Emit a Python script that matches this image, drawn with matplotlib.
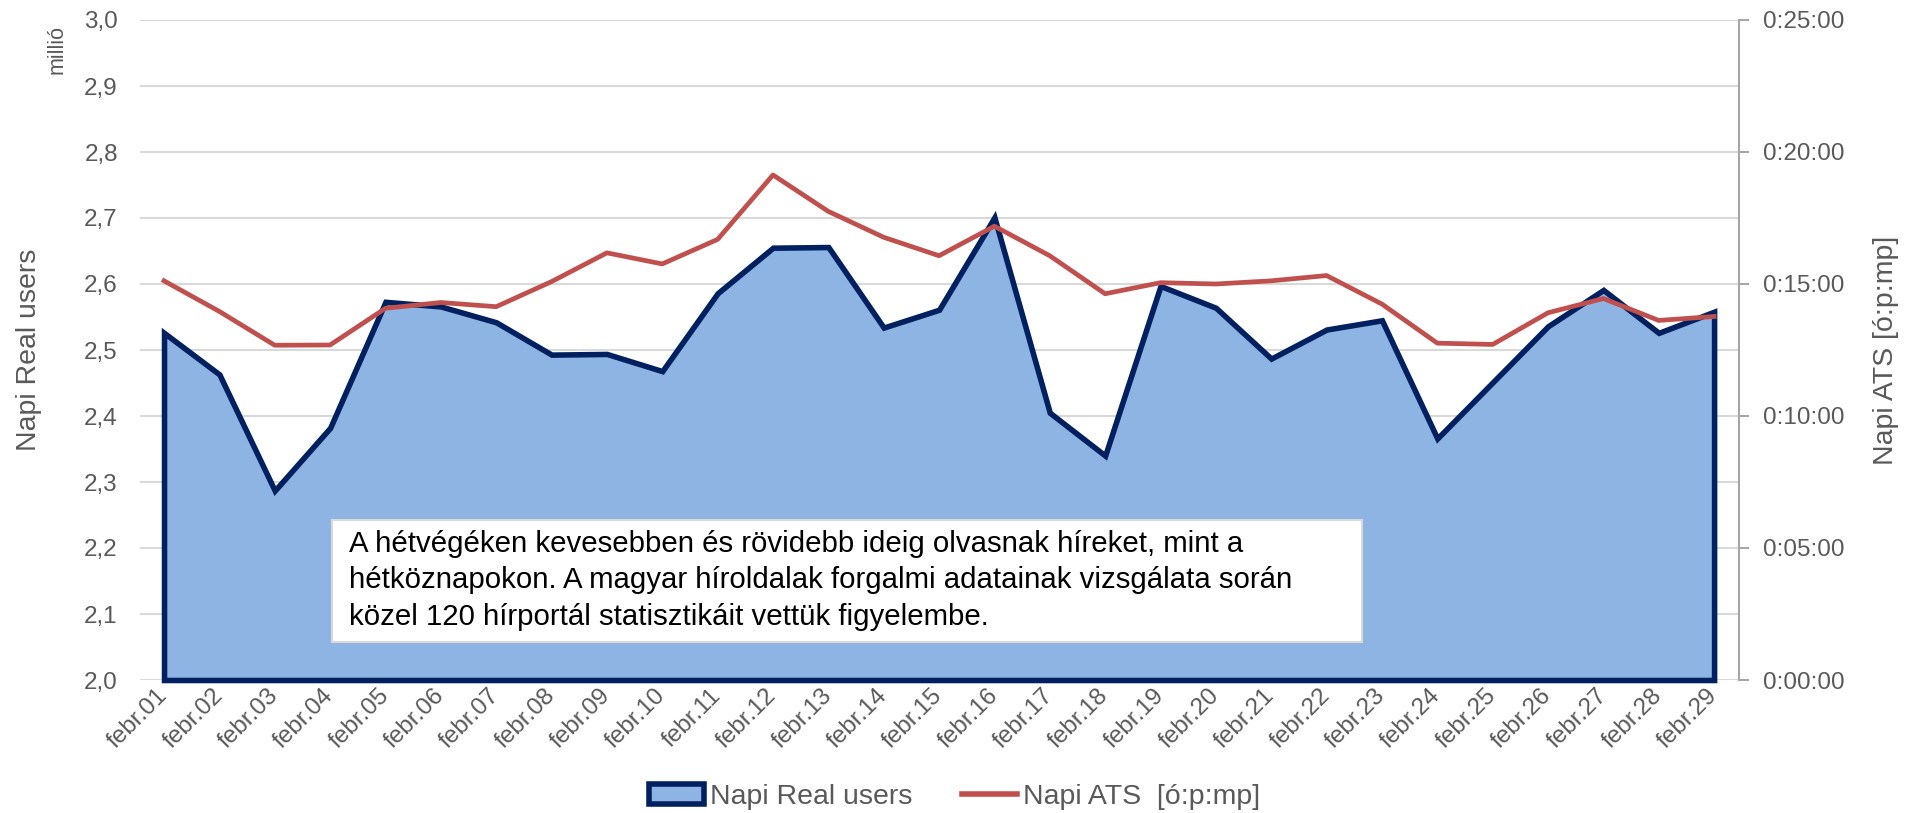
import matplotlib
matplotlib.use("Agg")
import matplotlib.pyplot as plt
from matplotlib.patches import Patch, Rectangle
from matplotlib.lines import Line2D
from matplotlib.ticker import FuncFormatter, MultipleLocator

# adatok
napok = ["febr.%02d" % d for d in range(1, 30)]
real_users = [2.526, 2.463, 2.287, 2.382, 2.573, 2.566, 2.542, 2.493, 2.494, 2.468,
              2.586, 2.655, 2.656, 2.534, 2.561, 2.701, 2.405, 2.340, 2.597, 2.564,
              2.487, 2.531, 2.545, 2.366, 2.451, 2.536, 2.591, 2.526, 2.558]
# ATS percben
ats_perc = [15.12, 13.96, 12.68, 12.69, 14.08, 14.30, 14.14, 15.09, 16.18, 15.76,
            16.69, 19.13, 17.75, 16.77, 16.07, 17.19, 16.07, 14.63, 15.05, 15.00,
            15.12, 15.32, 14.24, 12.76, 12.71, 13.91, 14.45, 13.62, 13.77]
megjegyzes = ("A hétvégéken kevesebben és rövidebb ideig olvasnak híreket, mint a\n"
              "hétköznapokon. A magyar híroldalak forgalmi adatainak vizsgálata során\n"
              "közel 120 hírportál statisztikáit vettük figyelembe.")

kek = "#8EB4E3"
sotetkek = "#002060"
piros = "#C0504D"
szurke = "#595959"

plt.rcParams["font.family"] = ["Liberation Sans", "DejaVu Sans"]

fig = plt.figure(figsize=(19.09, 8.13), dpi=100)
ax = fig.add_axes([140 / 1909, 1 - 680 / 813, 1599 / 1909, 660 / 813])
ax2 = ax.twinx()

x = list(range(len(napok)))

ax.fill_between(x, 2.0, real_users, facecolor=kek, edgecolor=sotetkek,
                linewidth=4, clip_on=False, zorder=3, joinstyle="miter")
ax2.plot(x, ats_perc, color=piros, linewidth=3.4, zorder=4)

ax.set_ylim(2.0, 3.0)
ax.set_xlim(-0.434, 28.45)
ax.yaxis.set_major_locator(MultipleLocator(0.1))
ax.yaxis.set_major_formatter(FuncFormatter(lambda v, p: ("%.1f" % v).replace(".", ",")))
ax.grid(axis="y", color="#D9D9D9", linewidth=1.5, zorder=0)
ax.set_axisbelow(True)
ax.set_xticks(x)
ax.set_xticklabels(napok, rotation=45, ha="right", va="center", rotation_mode="anchor")
ax.tick_params(axis="x", length=0, pad=9, labelsize=17.5, labelcolor=szurke)
ax.tick_params(axis="y", length=0, pad=16, labelsize=17.5, labelcolor=szurke)
for s in ax.spines.values():
    s.set_visible(False)

ax2.set_ylim(0, 25)
ax2.yaxis.set_major_locator(MultipleLocator(5))
ax2.yaxis.set_major_formatter(FuncFormatter(lambda v, p: "0:%02d:00" % int(round(v))))
ax2.tick_params(axis="y", length=7, width=1.5, color="#A6A6A6", pad=10,
                labelsize=17.5, labelcolor=szurke)
for k in ["top", "left", "bottom"]:
    ax2.spines[k].set_visible(False)
ax2.spines["right"].set_color("#A6A6A6")
ax2.spines["right"].set_linewidth(1.5)

ax.set_ylabel("Napi Real users", fontsize=20.5, color=szurke)
ax.yaxis.set_label_coords(-0.0613, 0.5)
ax2.set_ylabel("Napi ATS [ó:p:mp]", fontsize=20.5, color=szurke, rotation=90)
ax2.yaxis.set_label_coords(1.0838, 0.5)
fig.text(57 / 1909, 1 - 49 / 813, "millió", rotation=90, fontsize=15.5, color=szurke,
         ha="center", va="center")

# szövegdoboz
ax2.add_patch(Rectangle((0.120, 0.058), 0.644, 0.184, transform=ax.transAxes,
                        facecolor="white", edgecolor="#D9D9D9", linewidth=1.5, zorder=5))
ax2.text(0.1307, 0.228, megjegyzes, transform=ax.transAxes, fontsize=21.2,
         color="black", ha="left", va="top", linespacing=1.4, zorder=6)

kezelok = [Patch(facecolor=kek, edgecolor=sotetkek, linewidth=4),
           Line2D([0], [0], color=piros, linewidth=4)]
fig.legend(kezelok, ["Napi Real users", "Napi ATS  [ó:p:mp]"], loc="center",
           bbox_to_anchor=(0.5, 0.0197), ncol=2, frameon=False,
           prop={"size": 20.5}, labelcolor=szurke,
           handlelength=1.93, handleheight=0.68, handletextpad=0.21, columnspacing=1.75,
           borderpad=0)

fig.savefig("out.png", dpi=100)
